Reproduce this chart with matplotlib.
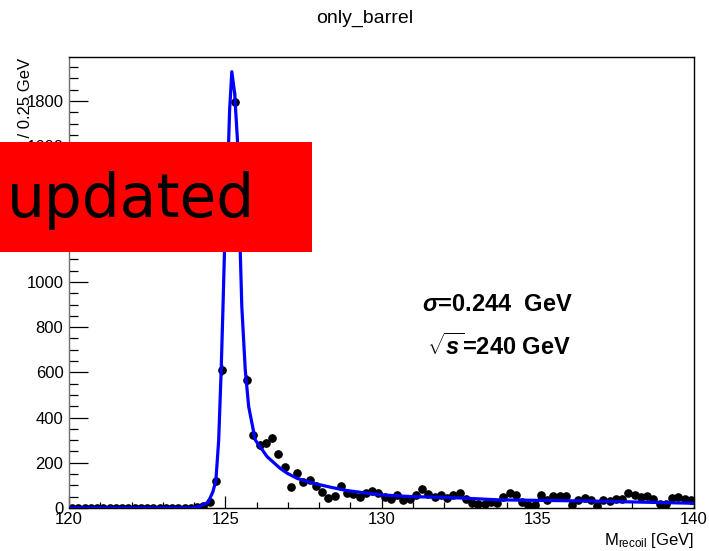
import numpy as np
import matplotlib
matplotlib.use("Agg")
import matplotlib.pyplot as plt
from matplotlib.patches import Rectangle
from matplotlib.ticker import MultipleLocator

plt.rcParams["font.family"] = ["Liberation Sans", "DejaVu Sans"]
plt.rcParams["mathtext.fontset"] = "custom"
plt.rcParams["mathtext.rm"] = "Liberation Sans"
plt.rcParams["mathtext.it"] = "Liberation Sans:italic:bold"
plt.rcParams["mathtext.bf"] = "Liberation Sans:bold"

# Histogram: recoil mass, 0.2 GeV bins from 120 to 140 GeV
bin_edges = np.arange(120.0, 140.0 + 1e-9, 0.2)
counts = [0] * 20 + [
    3, 10, 28, 121, 611,            # 124.1 - 124.9
    1500, 1798, 1250, 566, 323,     # 125.1 - 125.9
    279, 289, 308, 240, 183,        # 126.x
    92, 154, 115, 124, 99,          # 127.x
    72, 43, 53, 97, 68,             # 128.x
    61, 47, 68, 75, 68,             # 129.x
    47, 40, 58, 35, 38,             # 130.x
    58, 85, 62, 47, 58,             # 131.x
    43, 58, 68, 40, 23,             # 132.x
    18, 18, 28, 22, 50,             # 133.x
    66, 58, 28, 13, 15,             # 134.x
    58, 35, 54, 52, 52,             # 135.x
    13, 35, 45, 35, 10,             # 136.x
    35, 33, 40, 40, 65,             # 137.x
    58, 47, 54, 40, 16,             # 138.x
    16, 46, 50, 40, 35,             # 139.x
]

# Fitted line shape, sampled along the recoil mass
fit_x = [120.0, 123.95, 124.2, 124.45, 124.6, 124.70, 124.79, 124.87, 124.93,
         124.98, 125.11, 125.14, 125.21, 125.30, 125.39, 125.48, 125.53,
         125.64, 125.75, 125.96, 126.34, 126.76, 126.98, 127.3, 127.83,
         128.37, 128.9, 129.97, 131.03, 132.1, 133.17, 133.75, 136.6, 140.0]
fit_y = [0, 0, 8, 25, 70, 121, 300, 611, 900,
         1160, 1628, 1761, 1930, 1835, 1628, 1134, 891,
         611, 448, 301, 227, 175, 154, 131, 109,
         92, 77, 58, 50, 47, 40, 36, 31, 21]

title = "only_barrel"
x_label = r"M$_{\mathrm{recoil}}$ [GeV]"
y_label = "Events / 0.25 GeV"
sigma_text = r"$\sigma$=0.244  GeV"
energy_text = r"$\sqrt{s}$=240 GeV"

W, H = 709, 551
fig = plt.figure(figsize=(W / 100, H / 100), dpi=100)
ax_l, ax_r, ax_t, ax_b = 69, 694, 57, 508
ax = fig.add_axes([ax_l / W, 1 - ax_b / H, (ax_r - ax_l) / W, (ax_b - ax_t) / H])

centers = 0.5 * (bin_edges[:-1] + bin_edges[1:])
counts = np.asarray(counts, dtype=float)
ax.errorbar(centers, counts, yerr=np.sqrt(counts), xerr=0.1, fmt="o",
            color="black", markersize=5.2, elinewidth=1.0, capsize=0, zorder=2)
ax.plot(fit_x, fit_y, color="#0000ff", lw=2.3, zorder=3)

ax.set_xlim(120, 140)
ax.set_ylim(0, 1995)
ax.xaxis.set_major_locator(MultipleLocator(5))
ax.xaxis.set_minor_locator(MultipleLocator(1))
ax.yaxis.set_major_locator(MultipleLocator(200))
ax.yaxis.set_minor_locator(MultipleLocator(50))
ax.tick_params(axis="both", which="both", direction="in", top=False, right=False,
               labelsize=12, width=0.9)
ax.tick_params(axis="y", which="major", length=13.7, pad=4)
ax.tick_params(axis="y", which="minor", length=6.5)
ax.tick_params(axis="x", which="major", length=8.6, pad=3)
ax.tick_params(axis="x", which="minor", length=4.3)
for s in ax.spines.values():
    s.set_linewidth(1.0)
    s.set_color("black")
ax.spines["left"].set_color("#707070")

ax.text(0.565, 0.437, sigma_text, transform=ax.transAxes, fontsize=17,
        fontweight="bold", ha="left", va="baseline")
ax.text(0.573, 0.339, energy_text, transform=ax.transAxes, fontsize=17,
        fontweight="bold", ha="left", va="baseline")

fig.text(364.5 / W, 1 - 18 / H, title, ha="center", va="center", fontsize=14)
fig.text(ax_r / W, 1 - 545 / H, x_label, ha="right", va="baseline", fontsize=12)
fig.text(26 / W, 1 - 58 / H, y_label, ha="center", va="top", rotation=90,
         fontsize=12)

# "updated" banner
fig.patches.append(Rectangle((0, 1 - 252 / H), 312 / W, 110 / H,
                             transform=fig.transFigure, facecolor="#ff0000",
                             edgecolor="none", zorder=10))
fig.text(7 / W, 1 - 200 / H, "updated", family="DejaVu Sans", fontsize=43,
         ha="left", va="center", color="black", zorder=11)

fig.savefig("out.png", dpi=100)
